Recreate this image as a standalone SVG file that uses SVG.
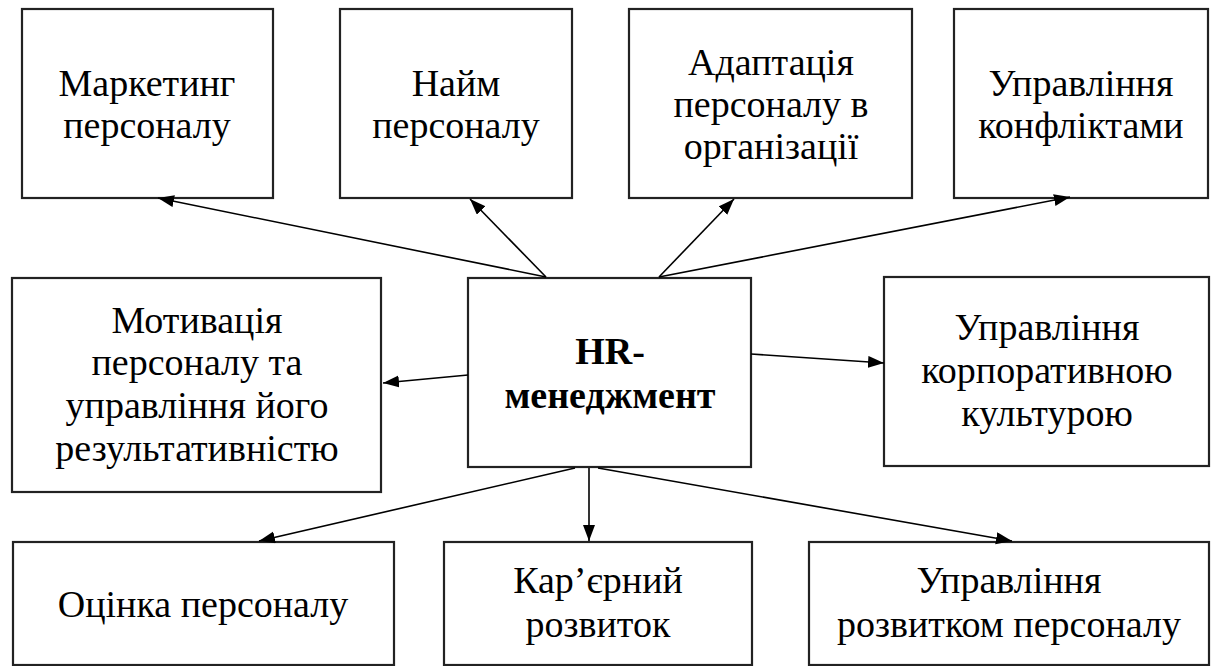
<svg xmlns="http://www.w3.org/2000/svg" width="1212" height="666" viewBox="0 0 1212 666">
<style>
.box{fill:#fff;stroke:#222;stroke-width:2.2}
.t{font-family:"Liberation Serif","Times New Roman",serif;font-size:38px;fill:#000;text-anchor:middle}
.b{font-weight:bold}
.c{stroke:#000;stroke-width:1.6;fill:none;marker-end:url(#ah)}
</style>
<defs>
<marker id="ah" markerUnits="userSpaceOnUse" markerWidth="18" markerHeight="14" refX="16" refY="6" orient="auto">
<path d="M0,0 L16,6 L0,12 Z" fill="#000"/>
</marker>
</defs>
<rect width="1212" height="666" fill="#fff"/>
<g id="marketing"><rect class="box" x="22" y="9" width="251" height="189"/>
<text class="t" x="147" y="96">Маркетинг</text><text class="t" x="147" y="138">персоналу</text></g>
<g id="naim"><rect class="box" x="340" y="9" width="232" height="189"/>
<text class="t" x="456" y="96">Найм</text><text class="t" x="456" y="138">персоналу</text></g>
<g id="adaptation"><rect class="box" x="629" y="9" width="283" height="189"/>
<text class="t" x="771" y="75">Адаптація</text><text class="t" x="771" y="117">персоналу в</text><text class="t" x="771" y="159">організації</text></g>
<g id="conflicts"><rect class="box" x="954" y="9" width="254" height="189"/>
<text class="t" x="1081" y="96">Управління</text><text class="t" x="1081" y="138">конфліктами</text></g>
<g id="motivation"><rect class="box" x="12" y="278" width="369" height="214"/>
<text class="t" x="197" y="333">Мотивація</text><text class="t" x="197" y="375">персоналу та</text><text class="t" x="197" y="418">управління його</text><text class="t" x="197" y="461">результативністю</text></g>
<g id="hr"><rect class="box" x="468" y="278" width="283" height="189"/>
<text class="t b" x="610" y="364">HR-</text><text class="t b" x="610" y="408">менеджмент</text></g>
<g id="culture"><rect class="box" x="884" y="277" width="325" height="189"/>
<text class="t" x="1047" y="340">Управління</text><text class="t" x="1047" y="383">корпоративною</text><text class="t" x="1047" y="426">культурою</text></g>
<g id="evaluation"><rect class="box" x="13" y="542" width="381" height="123"/>
<text class="t" x="203" y="617">Оцінка персоналу</text></g>
<g id="career"><rect class="box" x="444" y="542" width="308" height="123"/>
<text class="t" x="598" y="593">Кар’єрний</text><text class="t" x="598" y="637">розвиток</text></g>
<g id="development"><rect class="box" x="809" y="542" width="400" height="123"/>
<text class="t" x="1009" y="593">Управління</text><text class="t" x="1009" y="637">розвитком персоналу</text></g>
<g id="connectors">
<line class="c" x1="546" y1="277" x2="158" y2="198"/>
<line class="c" x1="546" y1="277" x2="470" y2="199"/>
<line class="c" x1="659" y1="277" x2="734" y2="199"/>
<line class="c" x1="659" y1="277" x2="1070" y2="197"/>
<line class="c" x1="468" y1="375" x2="383" y2="383"/>
<line class="c" x1="751" y1="354" x2="884" y2="363"/>
<line class="c" x1="575" y1="468" x2="259" y2="541"/>
<line class="c" x1="589" y1="468" x2="589" y2="541"/>
<line class="c" x1="598" y1="468" x2="1012" y2="541"/>
</g>
</svg>
